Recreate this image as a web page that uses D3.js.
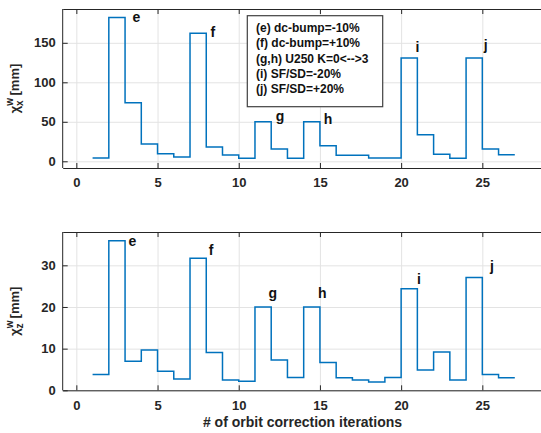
<!DOCTYPE html>
<html>
<head>
<meta charset="utf-8">
<script src="https://cdn.jsdelivr.net/npm/d3@7"></script>
<style>
  body { margin: 0; background: #fff; }
  svg { display: block; font-family: "Liberation Sans", Arial, sans-serif; }
</style>
</head>
<body>
<svg id="chart" width="541" height="433"></svg>
<script>
// step values, each held from iteration i to i+1
const iterations = [1, 2, 3, 4, 5, 6, 7, 8, 9, 10, 11, 12, 13, 14, 15, 16, 17, 18, 19, 20, 21, 22, 23, 24, 25, 26, 27];
const chiX = [4.2, 182, 74, 22, 9.6, 5.4, 162, 18, 8, 3.8, 50, 15.6, 3.8, 50, 19.7, 7.6, 7.6, 4.2, 4.2, 130.8, 33.7, 8.9, 3.8, 130.8, 15.6, 8.4];
const chiZ = [3.8, 35.9, 7.0, 9.7, 4.6, 2.7, 31.7, 9.1, 2.5, 2.2, 20, 7.3, 3.1, 20, 6.7, 3.0, 2.5, 2.0, 3.1, 24.4, 4.9, 9.2, 2.5, 27.1, 3.8, 3.0];

const xTicks = [0, 5, 10, 15, 20, 25];
const yTicksX = [0, 50, 100, 150];
const yTicksZ = [0, 10, 20, 30];

// annotation letters, placed in data units
const tags = ["e", "f", "g", "h", "i", "j"];
const tagXTop = [3.7, 8.4, 12.55, 15.5, 21.0, 25.2];
const tagYTop = [183, 164, 57, 53.5, 145, 147];
const tagXBot = [3.45, 8.3, 12.1, 15.15, 21.1, 25.6];
const tagYBot = [35.8, 33.7, 23.3, 23.3, 26.6, 29.8];

const legendLines = ["(e) dc-bump=-10%", "(f) dc-bump=+10%", "(g,h) U250 K=0<-->3", "(i) SF/SD=-20%", "(j) SF/SD=+20%"];

const svg = d3.select("#chart");
const blue = "#0072BD";
const axisCol = "#262626";

const x = d3.scaleLinear().domain([-0.84, 29.5]).range([62.7, 555.4]);

function panel(values, yDomain, yRange, yTicks, tx, ty, sub) {
  const y = d3.scaleLinear().domain(yDomain).range(yRange);
  const top = yRange[1], bottom = yRange[0];
  const g = svg.append("g");

  // grid
  g.append("g").attr("transform", `translate(0,${bottom})`)
    .call(d3.axisBottom(x).tickValues(xTicks).tickSize(-(bottom - top)).tickFormat(""))
    .call(a => a.select(".domain").remove())
    .call(a => a.selectAll("line").attr("stroke", "#e3e3e3"));
  g.append("g").attr("transform", `translate(${x.range()[0]},0)`)
    .call(d3.axisLeft(y).tickValues(yTicks).tickSize(-(600)).tickFormat(""))
    .call(a => a.select(".domain").remove())
    .call(a => a.selectAll("line").attr("stroke", "#e3e3e3"));

  // stairs
  const pts = values.map((v, i) => [iterations[i], v]);
  pts.push([iterations[values.length], values[values.length - 1]]);
  g.append("path")
    .attr("d", d3.line().x(d => x(d[0])).y(d => y(d[1])).curve(d3.curveStepAfter)(pts))
    .attr("fill", "none").attr("stroke", blue).attr("stroke-width", 1.5);

  // axes with inward ticks
  const xb = g.append("g").attr("transform", `translate(0,${bottom})`)
    .call(d3.axisBottom(x).tickValues(xTicks).tickSizeInner(-5).tickSizeOuter(0).tickPadding(10));
  const xt = g.append("g").attr("transform", `translate(0,${top})`)
    .call(d3.axisTop(x).tickValues(xTicks).tickSizeInner(-5).tickSizeOuter(0).tickFormat(""));
  const yl = g.append("g").attr("transform", `translate(${x.range()[0]},0)`)
    .call(d3.axisLeft(y).tickValues(yTicks).tickSizeInner(-5).tickSizeOuter(0).tickPadding(7));
  [xb, xt, yl].forEach(a => {
    a.selectAll("path, line").attr("stroke", axisCol);
    a.selectAll("text").attr("fill", axisCol).attr("font-size", 13).attr("font-weight", "bold")
      .attr("font-family", "Liberation Sans, Arial, sans-serif");
  });
  yl.select(".domain").attr("d", `M${0},${bottom}V${top}`);
  xb.selectAll("text").attr("dy", "0.71em");

  // letters
  g.selectAll("text.tag").data(tags).join("text").attr("class", "tag")
    .attr("x", (d, i) => x(tx[i])).attr("y", (d, i) => y(ty[i])).attr("dy", "0.35em")
    .attr("text-anchor", "middle").attr("font-size", 14).attr("font-weight", "bold")
    .attr("fill", "#111").text(d => d);

  // y label
  const lab = g.append("text")
    .attr("transform", `translate(19,${(top + bottom) / 2}) rotate(-90)`)
    .attr("text-anchor", "middle").attr("font-size", 13).attr("font-weight", "bold").attr("fill", axisCol);
  lab.append("tspan").text("χ");
  lab.append("tspan").attr("font-size", 10).attr("dy", -6).text("w");
  lab.append("tspan").attr("font-size", 10).attr("dx", -8).attr("dy", 10).text(sub);
  lab.append("tspan").attr("dx", 5).attr("dy", -4).text("[mm]");
  return g;
}

panel(chiX, [-8.5, 192.8], [168, 9], yTicksX, tagXTop, tagYTop, "x");
panel(chiZ, [0, 38], [390.3, 232], yTicksZ, tagXBot, tagYBot, "z");

// legend box
const leg = svg.append("g");
leg.append("rect").attr("x", 247.3).attr("y", 15.7).attr("width", 135.4).attr("height", 91)
  .attr("fill", "#fff").attr("stroke", "#404040").attr("stroke-width", 1.2);
leg.selectAll("text").data(legendLines).join("text")
  .attr("x", 256).attr("y", (d, i) => 31.7 + i * 15.4)
  .attr("font-size", 12).attr("font-weight", "bold").attr("fill", "#111")
  .text(d => d);

// x label
svg.append("text").attr("x", 302.5).attr("y", 427).attr("text-anchor", "middle")
  .attr("font-size", 14).attr("font-weight", "bold").attr("fill", axisCol)
  .text("# of orbit correction iterations");
</script>
</body>
</html>
